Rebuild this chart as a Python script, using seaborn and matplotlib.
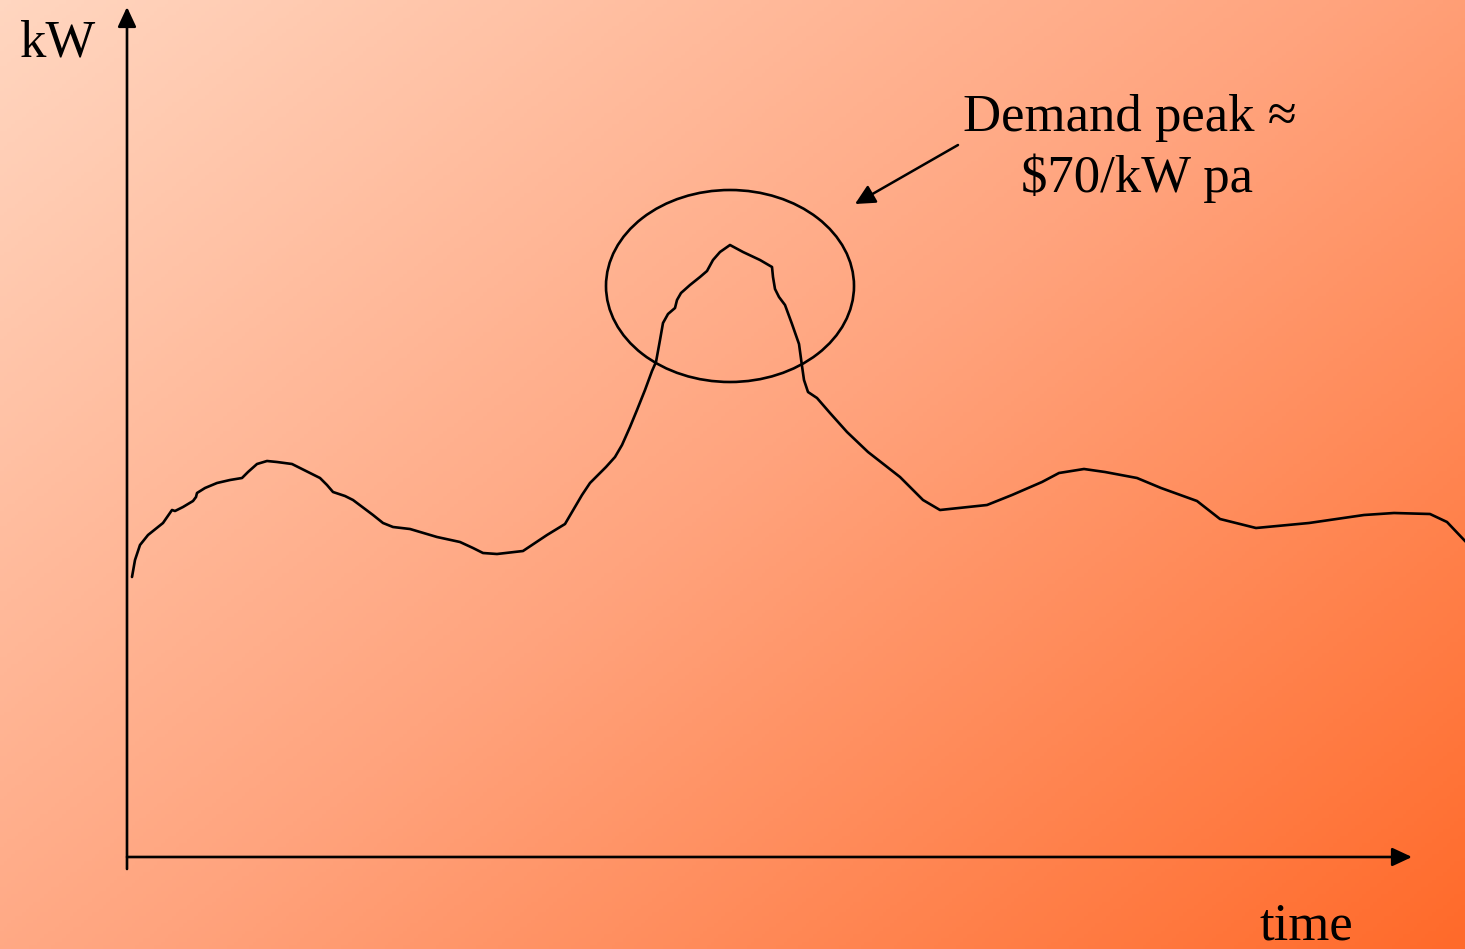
import numpy as np
import pandas as pd
import matplotlib
matplotlib.use("Agg")
import matplotlib.pyplot as plt
from matplotlib.colors import LinearSegmentedColormap
from matplotlib.patches import Ellipse
import seaborn as sns

# ---- data (schematic load profile; arbitrary time units, kW) ----
time = [5, 8, 13, 21, 36, 45, 48, 56, 66, 69, 70, 78, 90, 103, 115, 121, 130, 140, 150,
        165, 173, 193, 200, 206, 218, 226, 246, 256, 266, 283, 310, 333, 346, 356, 370,
        396, 420, 438, 455, 463, 473, 479, 488, 495, 503, 510, 518, 525, 529, 533, 536,
        541, 548, 550, 554, 563, 573, 580, 586, 593, 603, 616, 633, 645, 646, 648, 652,
        658, 665, 672, 675, 677, 681, 690, 703, 720, 741, 773, 783, 796, 813, 860, 885,
        915, 932, 957, 978, 1010, 1034, 1070, 1093, 1129, 1182, 1237, 1267, 1303, 1320,
        1339]
kw = [280, 297, 312, 322, 334, 347, 346, 350, 356, 360, 364, 369, 374, 377, 379, 385,
      393, 396, 395, 393, 389, 379, 372, 365, 361, 357, 342, 334, 330, 328, 320, 315,
      309, 304, 303, 306, 322, 333, 362, 374, 384, 390, 400, 412, 430, 447, 467, 486,
      495, 517, 534, 543, 549, 557, 564, 572, 580, 586, 597, 605, 612, 605, 597, 590,
      580, 568, 560, 552, 533, 513, 491, 477, 465, 459, 444, 425, 405, 380, 370, 357,
      347, 352, 362, 375, 384, 388, 385, 379, 369, 356, 338, 329, 334, 342, 344, 343,
      335, 315]

y_label = "kW"
x_label = "time"
note_line1 = "Demand peak ≈"
note_line2 = "$70/kW pa"

# ---- figure ----
sns.set_theme(style="white")
plt.rcParams["font.family"] = ["Liberation Serif", "DejaVu Serif"]

W, H = 1465, 949
fig = plt.figure(figsize=(W / 100, H / 100), dpi=100)
ax = fig.add_axes([0, 0, 1, 1])
x0, y0 = 127, 857  # origin offset
xmin, xmax = -x0, W - x0
ymin, ymax = y0 - H, y0

# gradient background (top-left light peach -> bottom-right orange)
gx, gy = np.meshgrid(np.linspace(0, 1, 400), np.linspace(0, 1, 260))
grad = (gx * 0.55 + gy * 0.45)
cmap = LinearSegmentedColormap.from_list("bg", ["#FFD6C0", "#FFA47E", "#FF6A2A"])
ax.imshow(grad, extent=[xmin, xmax, ymin, ymax], cmap=cmap, aspect="auto",
          zorder=0, origin="upper", vmin=0, vmax=1)

df = pd.DataFrame({"time": time, "kW": kw})
sns.lineplot(data=df, x="time", y="kW", sort=False, estimator=None, color="black",
             lw=1.9, ax=ax, zorder=3)
ax.set_xlim(xmin, xmax)
ax.set_ylim(ymin, ymax)
ax.axis("off")

# axes arrows
arrow_kw = dict(arrowstyle="-|>,head_length=0.6,head_width=0.28", color="black",
                lw=1.9, shrinkA=0, shrinkB=0, mutation_scale=20)
ax.annotate("", xy=(0, y0 - 7), xytext=(0, -12), arrowprops=arrow_kw, zorder=4)
ax.annotate("", xy=(1412 - x0, 0), xytext=(0, 0), arrowprops=arrow_kw, zorder=4)

# ellipse around the peak
ax.add_patch(Ellipse((730 - x0, y0 - 286), 248, 192, fill=False, ec="black",
                     lw=1.9, zorder=4))

# annotation arrow
ax.annotate("", xy=(855 - x0, y0 - 204), xytext=(958 - x0, y0 - 145),
            arrowprops=dict(arrowstyle="-|>,head_length=0.6,head_width=0.3",
                            color="black", lw=1.8, shrinkA=0, shrinkB=0,
                            mutation_scale=20), zorder=4)

fs = 38
ax.text(19 - x0, y0 - 56, y_label, fontsize=fs, ha="left", va="baseline", color="black")
ax.text(1259 - x0, y0 - 940, x_label, fontsize=fs, ha="left", va="baseline", color="black")
ax.text(1130 - x0, y0 - 131, note_line1, fontsize=fs, ha="center", va="baseline", color="black")
ax.text(1137 - x0, y0 - 192, note_line2, fontsize=fs, ha="center", va="baseline", color="black")

fig.savefig("out.png", dpi=100)
